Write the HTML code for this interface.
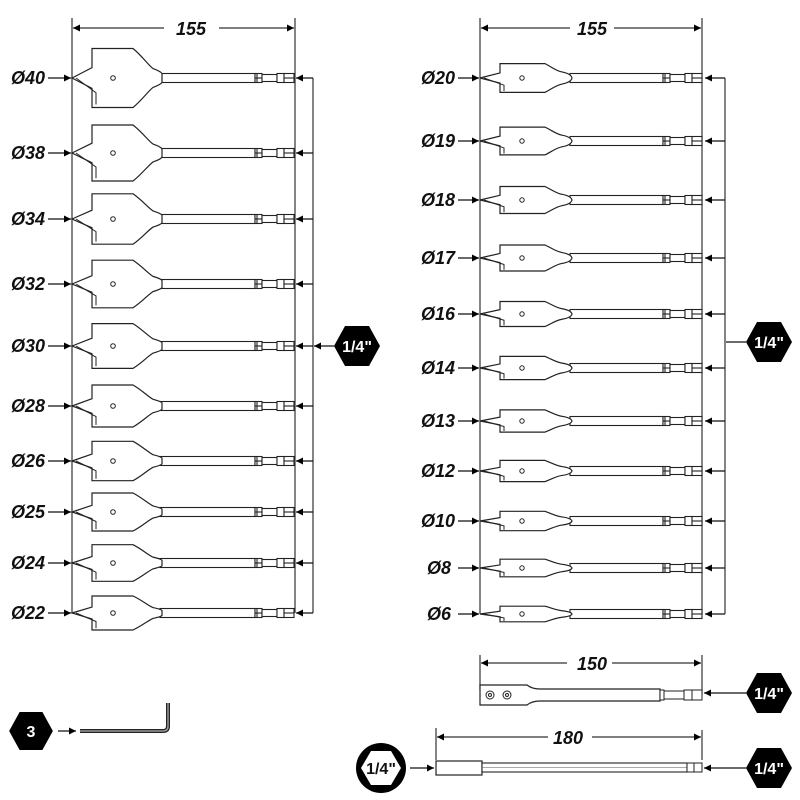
<!DOCTYPE html>
<html><head><meta charset="utf-8"><style>
html,body{margin:0;padding:0;background:#fff;width:800px;height:800px;overflow:hidden}
svg{display:block}
text{font-family:"Liberation Sans",sans-serif;font-weight:bold;font-style:italic;font-size:18px;fill:#111}
.hx{font-style:normal;fill:#fff;font-size:16px}
</style></head><body>
<svg width="800" height="800" viewBox="0 0 800 800" xmlns="http://www.w3.org/2000/svg">
<defs>
<marker id="ar" viewBox="0 0 10 10" refX="10" refY="5" markerWidth="7" markerHeight="7" orient="auto-start-reverse" markerUnits="userSpaceOnUse"><path d="M0,0 L10,5 L0,10 Z" fill="#000"/></marker>
<path id="bladeL" d="M72,0 L92,-0.35 L92,-1 L133,-1 C142,-0.75 148,-0.45 153,-0.32 Q161,-0.22 162,-0.15 L162,0.15 Q161,0.22 153,0.32 C148,0.45 142,0.75 133,1 L92,1 L92,0.35 Z" fill="#fff" stroke="#222" stroke-width="1.2" vector-effect="non-scaling-stroke"/>
<path id="spurL" d="M76,0 L96,0.5 L96,0.9" fill="none" stroke="#222" stroke-width="1" vector-effect="non-scaling-stroke"/>
<g id="endL" fill="#fff" stroke="#222" stroke-width="1.1">
<rect x="160" y="-4.5" width="95" height="9"/>
<rect x="255" y="-4.5" width="7" height="9"/><line x1="257" y1="-4.5" x2="257" y2="4.5"/><line x1="255" y1="0" x2="262" y2="0"/>
<rect x="262" y="-3.5" width="15" height="7"/>
<rect x="277" y="-4.5" width="7" height="9"/><rect x="284" y="-4.5" width="10" height="9"/><line x1="284" y1="0" x2="294" y2="0"/>
</g>
<path id="bladeR" d="M480,0 L500,-0.35 L500,-1 L545,-1 C552,-0.75 556,-0.5 562,-0.42 Q571,-0.3 572,0 Q571,0.3 562,0.42 C556,0.5 552,0.75 545,1 L500,1 L500,0.35 Z" fill="#fff" stroke="#222" stroke-width="1.2" vector-effect="non-scaling-stroke"/>
<path id="spurR" d="M484,0 L504,0.5 L504,0.9" fill="none" stroke="#222" stroke-width="1" vector-effect="non-scaling-stroke"/>
<g id="endR" fill="#fff" stroke="#222" stroke-width="1.1">
<rect x="570" y="-4.5" width="93" height="9"/>
<rect x="663" y="-4.5" width="7" height="9"/><line x1="665" y1="-4.5" x2="665" y2="4.5"/><line x1="663" y1="0" x2="670" y2="0"/>
<rect x="670" y="-3.5" width="15" height="7"/>
<rect x="685" y="-4.5" width="7" height="9"/><rect x="692" y="-4.5" width="10" height="9"/><line x1="692" y1="0" x2="702" y2="0"/>
</g>
<path id="hex" d="M-23,0 L-12,-20 L12,-20 L23,0 L12,20 L-12,20 Z" fill="#000"/>
</defs>
<g stroke="#333" stroke-width="1.2" fill="none">
<line x1="72" y1="18" x2="72" y2="613"/><line x1="295" y1="18" x2="295" y2="613"/>
<line x1="313" y1="78" x2="313" y2="613"/>
<line x1="480" y1="18" x2="480" y2="614"/><line x1="702" y1="18" x2="702" y2="614"/>
<line x1="725" y1="78" x2="725" y2="614"/>
<line x1="73" y1="28" x2="164" y2="28" marker-start="url(#ar)"/><line x1="219" y1="28" x2="294" y2="28" marker-end="url(#ar)"/>
<line x1="481" y1="28" x2="570" y2="28" marker-start="url(#ar)"/><line x1="614" y1="28" x2="701" y2="28" marker-end="url(#ar)"/>
</g>
<text x="191" y="35" text-anchor="middle">155</text>
<text x="592" y="35" text-anchor="middle">155</text>

<g transform="translate(0,78)"><use href="#endL"/><use href="#bladeL" transform="scale(1,29.5)"/><use href="#spurL" transform="scale(1,29.5)"/><circle cx="113" cy="0" r="2.3" fill="none" stroke="#222"/></g>
<g transform="translate(0,153)"><use href="#endL"/><use href="#bladeL" transform="scale(1,28)"/><use href="#spurL" transform="scale(1,28)"/><circle cx="113" cy="0" r="2.3" fill="none" stroke="#222"/></g>
<g transform="translate(0,219)"><use href="#endL"/><use href="#bladeL" transform="scale(1,25.2)"/><use href="#spurL" transform="scale(1,25.2)"/><circle cx="113" cy="0" r="2.3" fill="none" stroke="#222"/></g>
<g transform="translate(0,284)"><use href="#endL"/><use href="#bladeL" transform="scale(1,23.8)"/><use href="#spurL" transform="scale(1,23.8)"/><circle cx="113" cy="0" r="2.3" fill="none" stroke="#222"/></g>
<g transform="translate(0,346)"><use href="#endL"/><use href="#bladeL" transform="scale(1,22.4)"/><use href="#spurL" transform="scale(1,22.4)"/><circle cx="113" cy="0" r="2.3" fill="none" stroke="#222"/></g>
<g transform="translate(0,406)"><use href="#endL"/><use href="#bladeL" transform="scale(1,21)"/><use href="#spurL" transform="scale(1,21)"/><circle cx="113" cy="0" r="2.3" fill="none" stroke="#222"/></g>
<g transform="translate(0,461)"><use href="#endL"/><use href="#bladeL" transform="scale(1,19.7)"/><use href="#spurL" transform="scale(1,19.7)"/><circle cx="113" cy="0" r="2.3" fill="none" stroke="#222"/></g>
<g transform="translate(0,512)"><use href="#endL"/><use href="#bladeL" transform="scale(1,19)"/><use href="#spurL" transform="scale(1,19)"/><circle cx="113" cy="0" r="2.3" fill="none" stroke="#222"/></g>
<g transform="translate(0,563)"><use href="#endL"/><use href="#bladeL" transform="scale(1,18.3)"/><use href="#spurL" transform="scale(1,18.3)"/><circle cx="113" cy="0" r="2.3" fill="none" stroke="#222"/></g>
<g transform="translate(0,613)"><use href="#endL"/><use href="#bladeL" transform="scale(1,17)"/><use href="#spurL" transform="scale(1,17)"/><circle cx="113" cy="0" r="2.3" fill="none" stroke="#222"/></g>
<g stroke="#111" stroke-width="1.2">
<line x1="48" y1="78" x2="71" y2="78" marker-end="url(#ar)"/><line x1="313" y1="78" x2="296" y2="78" marker-end="url(#ar)"/>
<line x1="48" y1="153" x2="71" y2="153" marker-end="url(#ar)"/><line x1="313" y1="153" x2="296" y2="153" marker-end="url(#ar)"/>
<line x1="48" y1="219" x2="71" y2="219" marker-end="url(#ar)"/><line x1="313" y1="219" x2="296" y2="219" marker-end="url(#ar)"/>
<line x1="48" y1="284" x2="71" y2="284" marker-end="url(#ar)"/><line x1="313" y1="284" x2="296" y2="284" marker-end="url(#ar)"/>
<line x1="48" y1="346" x2="71" y2="346" marker-end="url(#ar)"/><line x1="313" y1="346" x2="296" y2="346" marker-end="url(#ar)"/>
<line x1="48" y1="406" x2="71" y2="406" marker-end="url(#ar)"/><line x1="313" y1="406" x2="296" y2="406" marker-end="url(#ar)"/>
<line x1="48" y1="461" x2="71" y2="461" marker-end="url(#ar)"/><line x1="313" y1="461" x2="296" y2="461" marker-end="url(#ar)"/>
<line x1="48" y1="512" x2="71" y2="512" marker-end="url(#ar)"/><line x1="313" y1="512" x2="296" y2="512" marker-end="url(#ar)"/>
<line x1="48" y1="563" x2="71" y2="563" marker-end="url(#ar)"/><line x1="313" y1="563" x2="296" y2="563" marker-end="url(#ar)"/>
<line x1="48" y1="613" x2="71" y2="613" marker-end="url(#ar)"/><line x1="313" y1="613" x2="296" y2="613" marker-end="url(#ar)"/>
<line x1="334" y1="346" x2="314" y2="346" marker-end="url(#ar)"/>
</g>
<g text-anchor="end">
<text x="45" y="84">Ø40</text><text x="45" y="159">Ø38</text><text x="45" y="225">Ø34</text><text x="45" y="290">Ø32</text><text x="45" y="352">Ø30</text>
<text x="45" y="412">Ø28</text><text x="45" y="467">Ø26</text><text x="45" y="518">Ø25</text><text x="45" y="569">Ø24</text><text x="45" y="619">Ø22</text>
</g>
<use href="#hex" transform="translate(357,346)"/><text class="hx" x="357" y="352" text-anchor="middle">1/4"</text>

<g transform="translate(0,78)"><use href="#endR"/><use href="#bladeR" transform="scale(1,14.4)"/><use href="#spurR" transform="scale(1,14.4)"/><circle cx="522" cy="0" r="2.2" fill="none" stroke="#222"/></g>
<g transform="translate(0,141)"><use href="#endR"/><use href="#bladeR" transform="scale(1,13.9)"/><use href="#spurR" transform="scale(1,13.9)"/><circle cx="522" cy="0" r="2.2" fill="none" stroke="#222"/></g>
<g transform="translate(0,200)"><use href="#endR"/><use href="#bladeR" transform="scale(1,13.5)"/><use href="#spurR" transform="scale(1,13.5)"/><circle cx="522" cy="0" r="2.2" fill="none" stroke="#222"/></g>
<g transform="translate(0,258)"><use href="#endR"/><use href="#bladeR" transform="scale(1,13)"/><use href="#spurR" transform="scale(1,13)"/><circle cx="522" cy="0" r="2.2" fill="none" stroke="#222"/></g>
<g transform="translate(0,314)"><use href="#endR"/><use href="#bladeR" transform="scale(1,12.5)"/><use href="#spurR" transform="scale(1,12.5)"/><circle cx="522" cy="0" r="2.2" fill="none" stroke="#222"/></g>
<g transform="translate(0,368)"><use href="#endR"/><use href="#bladeR" transform="scale(1,11.6)"/><use href="#spurR" transform="scale(1,11.6)"/><circle cx="522" cy="0" r="2.2" fill="none" stroke="#222"/></g>
<g transform="translate(0,421)"><use href="#endR"/><use href="#bladeR" transform="scale(1,11.1)"/><use href="#spurR" transform="scale(1,11.1)"/><circle cx="522" cy="0" r="2.2" fill="none" stroke="#222"/></g>
<g transform="translate(0,471)"><use href="#endR"/><use href="#bladeR" transform="scale(1,10.6)"/><use href="#spurR" transform="scale(1,10.6)"/><circle cx="522" cy="0" r="2.2" fill="none" stroke="#222"/></g>
<g transform="translate(0,521)"><use href="#endR"/><use href="#bladeR" transform="scale(1,9.7)"/><use href="#spurR" transform="scale(1,9.7)"/><circle cx="522" cy="0" r="2.2" fill="none" stroke="#222"/></g>
<g transform="translate(0,568)"><use href="#endR"/><use href="#bladeR" transform="scale(1,8.8)"/><use href="#spurR" transform="scale(1,8.8)"/><circle cx="522" cy="0" r="2.2" fill="none" stroke="#222"/></g>
<g transform="translate(0,614)"><use href="#endR"/><use href="#bladeR" transform="scale(1,7.8)"/><use href="#spurR" transform="scale(1,7.8)"/><circle cx="522" cy="0" r="2.2" fill="none" stroke="#222"/></g>
<g stroke="#111" stroke-width="1.2">
<line x1="458" y1="78" x2="479" y2="78" marker-end="url(#ar)"/><line x1="725" y1="78" x2="705" y2="78" marker-end="url(#ar)"/>
<line x1="458" y1="141" x2="479" y2="141" marker-end="url(#ar)"/><line x1="725" y1="141" x2="705" y2="141" marker-end="url(#ar)"/>
<line x1="458" y1="200" x2="479" y2="200" marker-end="url(#ar)"/><line x1="725" y1="200" x2="705" y2="200" marker-end="url(#ar)"/>
<line x1="458" y1="258" x2="479" y2="258" marker-end="url(#ar)"/><line x1="725" y1="258" x2="705" y2="258" marker-end="url(#ar)"/>
<line x1="458" y1="314" x2="479" y2="314" marker-end="url(#ar)"/><line x1="725" y1="314" x2="705" y2="314" marker-end="url(#ar)"/>
<line x1="458" y1="368" x2="479" y2="368" marker-end="url(#ar)"/><line x1="725" y1="368" x2="705" y2="368" marker-end="url(#ar)"/>
<line x1="458" y1="421" x2="479" y2="421" marker-end="url(#ar)"/><line x1="725" y1="421" x2="705" y2="421" marker-end="url(#ar)"/>
<line x1="458" y1="471" x2="479" y2="471" marker-end="url(#ar)"/><line x1="725" y1="471" x2="705" y2="471" marker-end="url(#ar)"/>
<line x1="458" y1="521" x2="479" y2="521" marker-end="url(#ar)"/><line x1="725" y1="521" x2="705" y2="521" marker-end="url(#ar)"/>
<line x1="458" y1="568" x2="479" y2="568" marker-end="url(#ar)"/><line x1="725" y1="568" x2="705" y2="568" marker-end="url(#ar)"/>
<line x1="458" y1="614" x2="479" y2="614" marker-end="url(#ar)"/><line x1="725" y1="614" x2="705" y2="614" marker-end="url(#ar)"/>
<line x1="746" y1="342" x2="726" y2="342"/>
</g>
<g text-anchor="end">
<text x="455" y="84">Ø20</text><text x="455" y="147">Ø19</text><text x="455" y="206">Ø18</text><text x="455" y="264">Ø17</text><text x="455" y="320">Ø16</text><text x="455" y="374">Ø14</text>
<text x="455" y="427">Ø13</text><text x="455" y="477">Ø12</text><text x="455" y="527">Ø10</text><text x="451" y="574">Ø8</text><text x="451" y="620">Ø6</text>
</g>
<use href="#hex" transform="translate(769,342)"/><text class="hx" x="769" y="348" text-anchor="middle">1/4"</text>

<g stroke="#333" stroke-width="1.2" fill="none">
<line x1="480" y1="655" x2="480" y2="690"/><line x1="702" y1="655" x2="702" y2="695"/>
<line x1="481" y1="663" x2="567" y2="663" marker-start="url(#ar)"/><line x1="612" y1="663" x2="701" y2="663" marker-end="url(#ar)"/>
<line x1="437" y1="737" x2="548" y2="737" marker-start="url(#ar)"/><line x1="592" y1="737" x2="701" y2="737" marker-end="url(#ar)"/>
<line x1="436" y1="728" x2="436" y2="760"/><line x1="702" y1="730" x2="702" y2="760"/>
</g>
<path d="M480,685 L527,685 Q532,689 540,689 L660,689 L660,701 L540,701 Q532,701 527,705 L480,705 Z" fill="#fff" stroke="#222" stroke-width="1.2"/>
<circle cx="490" cy="695" r="4" fill="none" stroke="#222"/><circle cx="490" cy="695" r="1.5" fill="none" stroke="#222"/>
<circle cx="507" cy="695" r="4" fill="none" stroke="#222"/><circle cx="507" cy="695" r="1.5" fill="none" stroke="#222"/>
<g transform="translate(0,695)"><rect x="660" y="-5" width="4" height="10" fill="#fff" stroke="#222"/><rect x="664" y="-4" width="20" height="8" fill="#fff" stroke="#222"/><rect x="684" y="-5" width="18" height="10" fill="#fff" stroke="#222"/><line x1="692" y1="-5" x2="692" y2="5" stroke="#222"/></g>
<text x="592" y="670" text-anchor="middle">150</text>
<line x1="746" y1="693" x2="704" y2="693" stroke="#111" stroke-width="1.2" marker-end="url(#ar)"/>
<use href="#hex" transform="translate(769,693)"/><text class="hx" x="769" y="699" text-anchor="middle">1/4"</text>

<text x="568" y="744" text-anchor="middle">180</text>
<rect x="436" y="761" width="46" height="14" fill="#fff" stroke="#222" stroke-width="1.2"/>
<rect x="482" y="763" width="205" height="9" fill="#fff" stroke="#222" stroke-width="1.1"/>
<line x1="482" y1="767.5" x2="687" y2="767.5" stroke="#555" stroke-width="0.6"/>
<rect x="687" y="763" width="15" height="9" fill="#fff" stroke="#222"/><line x1="694" y1="763" x2="694" y2="772" stroke="#222"/>
<line x1="746" y1="768" x2="704" y2="768" stroke="#111" stroke-width="1.2" marker-end="url(#ar)"/>
<use href="#hex" transform="translate(769,768)"/><text class="hx" x="769" y="774" text-anchor="middle">1/4"</text>
<line x1="410" y1="768" x2="434" y2="768" stroke="#111" stroke-width="1.2" marker-end="url(#ar)"/>
<circle cx="381" cy="768" r="25" fill="#000"/>
<path d="M361,768 L371,751 L391,751 L401,768 L391,785 L371,785 Z" fill="#fff"/>
<text x="381" y="774" text-anchor="middle" style="font-style:normal;font-size:16px">1/4"</text>

<use href="#hex" transform="translate(31,731) scale(0.95)"/><text class="hx" x="31" y="737" text-anchor="middle">3</text>
<line x1="58" y1="731" x2="76" y2="731" stroke="#111" stroke-width="1.2" marker-end="url(#ar)"/>
<path d="M80,731 L163,731 Q168,731 168,726 L168,703" fill="none" stroke="#222" stroke-width="4"/>
<path d="M80,731 L163,731 Q168,731 168,726 L168,703" fill="none" stroke="#999" stroke-width="1.5"/>
</svg>
</body></html>
